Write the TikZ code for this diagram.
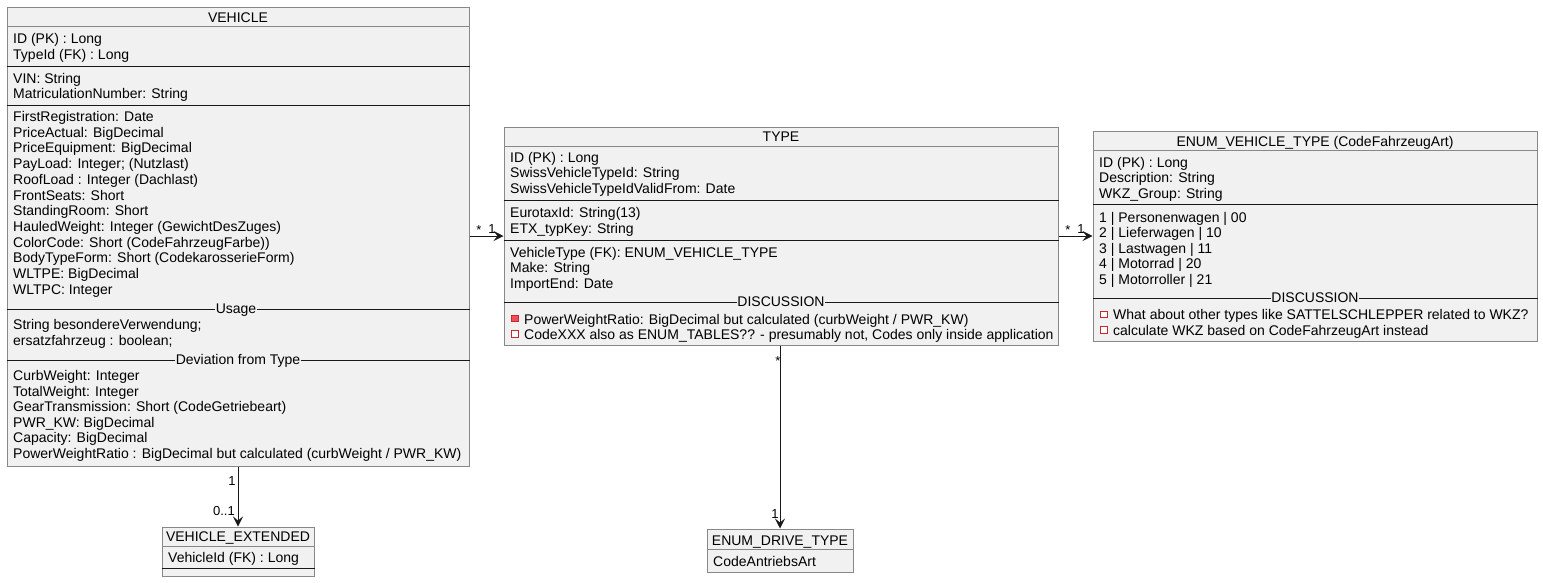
\documentclass[tikz,border=0pt]{standalone}
\usepackage{fontspec}
\setmainfont{Liberation Sans}
\usetikzlibrary{arrows.meta}
\definecolor{boxfill}{HTML}{F1F1F1}
\definecolor{bordergray}{HTML}{888888}
\definecolor{sepcol}{HTML}{181818}
\definecolor{privred}{HTML}{C82930}
\definecolor{privfill}{HTML}{F24D5C}
\tikzset{
  box/.style={rectangle, draw=bordergray, fill=boxfill, line width=1pt, inner sep=0pt},
  sepline/.style={draw=sepcol, line width=1pt},
  titlesep/.style={draw=bordergray, line width=1pt},
  txt/.style={anchor=base west, inner sep=0pt, font=\fontsize{14}{16}\selectfont, text=black},
  ttl/.style={anchor=base, inner sep=0pt, font=\fontsize{14}{16}\selectfont, text=black},
  sectl/.style={anchor=base, inner sep=0pt, inner xsep=0.5pt, fill=boxfill, font=\fontsize{14}{16}\selectfont, text=black},
  lbl/.style={anchor=base, inner sep=0pt, font=\fontsize{13}{15}\selectfont, text=black},
  bulletF/.style={rectangle, draw=privred, fill=privfill, line width=1pt, minimum size=6.5pt, inner sep=0pt},
  bulletH/.style={rectangle, draw=privred, fill=white, line width=1pt, minimum size=6.5pt, inner sep=0pt},
  arr/.style={draw=sepcol, line width=1pt, -{Stealth[length=10pt,width=10pt,inset=4pt]}}
}
\begin{document}
\begin{tikzpicture}[x=1pt,y=-1pt]
\useasboundingbox (0,0) rectangle (1543,582);

% ---------- boxes ----------
\node[box, minimum width=462pt, minimum height=459pt] (vehicle) at (238,236.5) {};
\node[box, minimum width=554pt, minimum height=218pt] (type) at (781,236) {};
\node[box, minimum width=444pt, minimum height=210pt] (enumvt) at (1315,236) {};
\node[box, minimum width=152pt, minimum height=49pt] (vext) at (238,551.5) {};
\node[box, minimum width=146pt, minimum height=43pt] (edrive) at (780,550.5) {};

% ---------- VEHICLE ----------
\node[ttl] (vtitle) at (238,22) {VEHICLE};
\draw[titlesep] (vehicle.west |- 0,26) -- (vehicle.east |- 0,26);
\node[txt] (va1) at (13,43) {ID (PK) : Long};
\node[txt] (va2) at (13,59) {TypeId (FK) : Long};
\draw[sepline] (vehicle.west |- 0,66) -- (vehicle.east |- 0,66);
\node[txt] (vb1) at (13,83) {VIN: String};
\node[txt] (vb2) at (13,98.5) {MatriculationNumber: String};
\draw[sepline] (vehicle.west |- 0,105) -- (vehicle.east |- 0,105);
\foreach \t [count=\i from 0] in {
  {FirstRegistration: Date},
  {PriceActual: BigDecimal},
  {PriceEquipment: BigDecimal},
  {PayLoad: Integer; (Nutzlast)},
  {RoofLoad : Integer (Dachlast)},
  {FrontSeats: Short},
  {StandingRoom: Short},
  {HauledWeight: Integer (GewichtDesZuges)},
  {ColorCode: Short (CodeFahrzeugFarbe))},
  {BodyTypeForm: Short (CodekarosserieForm)},
  {WLTPE: BigDecimal},
  {WLTPC: Integer}}
  \node[txt] (vc\i) at (13,{121.5+\i*15.7}) {\t};
\draw[sepline] (vehicle.west |- 0,309) -- (vehicle.east |- 0,309);
\node[sectl] (vusage) at (236,313.5) {Usage};
\node[txt] (vd1) at (13,329.5) {String besondereVerwendung;};
\node[txt] (vd2) at (13,345) {ersatzfahrzeug : boolean;};
\draw[sepline] (vehicle.west |- 0,360) -- (vehicle.east |- 0,360);
\node[sectl] (vdev) at (238,364.5) {Deviation from Type};
\foreach \t [count=\i from 0] in {
  {CurbWeight: Integer},
  {TotalWeight: Integer},
  {GearTransmission: Short (CodeGetriebeart)},
  {PWR\_KW: BigDecimal},
  {Capacity: BigDecimal},
  {PowerWeightRatio : BigDecimal but calculated (curbWeight / PWR\_KW)}}
  \node[txt] (ve\i) at (13,{380.5+\i*15.6}) {\t};

% ---------- TYPE ----------
\node[ttl] (ttitle) at (781,141) {TYPE};
\draw[titlesep] (type.west |- 0,146) -- (type.east |- 0,146);
\node[txt] (ta1) at (510,162) {ID (PK) : Long};
\node[txt] (ta2) at (510,177.5) {SwissVehicleTypeId: String};
\node[txt] (ta3) at (510,193) {SwissVehicleTypeIdValidFrom: Date};
\draw[sepline] (type.west |- 0,200) -- (type.east |- 0,200);
\node[txt] (tb1) at (510,217) {EurotaxId: String(13)};
\node[txt] (tb2) at (510,233) {ETX\_typKey: String};
\draw[sepline] (type.west |- 0,240) -- (type.east |- 0,240);
\node[txt] (tc1) at (510,257) {VehicleType (FK): ENUM\_VEHICLE\_TYPE};
\node[txt] (tc2) at (510,272.5) {Make: String};
\node[txt] (tc3) at (510,288) {ImportEnd: Date};
\draw[sepline] (type.west |- 0,302) -- (type.east |- 0,302);
\node[sectl] (tdisc) at (781,306.5) {DISCUSSION};
\node[bulletF] (tbul1) at (515,318.5) {};
\node[txt] (td1) at (524,324) {PowerWeightRatio: BigDecimal but calculated (curbWeight / PWR\_KW)};
\node[bulletH] (tbul2) at (515,334) {};
\node[txt] (td2) at (524,339.5) {CodeXXX also as ENUM\_TABLES?? - presumably not, Codes only inside application};

% ---------- ENUM_VEHICLE_TYPE ----------
\node[ttl] (etitle) at (1315,146) {ENUM\_VEHICLE\_TYPE (CodeFahrzeugArt)};
\draw[titlesep] (enumvt.west |- 0,150) -- (enumvt.east |- 0,150);
\node[txt] (ea1) at (1099,167) {ID (PK) : Long};
\node[txt] (ea2) at (1099,182.5) {Description: String};
\node[txt] (ea3) at (1099,198) {WKZ\_Group: String};
\draw[sepline] (enumvt.west |- 0,204) -- (enumvt.east |- 0,204);
\foreach \t [count=\i from 0] in {
  {1 | Personenwagen | 00},
  {2 | Lieferwagen | 10},
  {3 | Lastwagen | 11},
  {4 | Motorrad | 20},
  {5 | Motorroller | 21}}
  \node[txt] (eb\i) at (1099,{222+\i*15.5}) {\t};
\draw[sepline] (enumvt.west |- 0,298) -- (enumvt.east |- 0,298);
\node[sectl] (edisc) at (1315,302.5) {DISCUSSION};
\node[bulletH] (ebul1) at (1104,314.5) {};
\node[txt] (ec1) at (1113,319.5) {What about other types like SATTELSCHLEPPER related to WKZ?};
\node[bulletH] (ebul2) at (1104,330) {};
\node[txt] (ec2) at (1113,335) {calculate WKZ based on CodeFahrzeugArt instead};

% ---------- VEHICLE_EXTENDED ----------
\node[ttl] (xtitle) at (238,541) {VEHICLE\_EXTENDED};
\draw[titlesep] (vext.west |- 0,546) -- (vext.east |- 0,546);
\node[txt] (xa1) at (168,562) {VehicleId (FK) : Long};
\draw[sepline] (vext.west |- 0,568) -- (vext.east |- 0,568);

% ---------- ENUM_DRIVE_TYPE ----------
\node[ttl] (dtitle) at (780,545) {ENUM\_DRIVE\_TYPE};
\draw[titlesep] (edrive.west |- 0,549) -- (edrive.east |- 0,549);
\node[txt] (da1) at (713,566) {CodeAntriebsArt};

% ---------- connectors ----------
\draw[arr] (vehicle.east |- type.west) -- (type.west);
\draw[arr] (type.east) -- (enumvt.west);
\draw[arr] (vehicle.south) -- (vext.north);
\draw[arr] (type.south -| edrive.north) -- (edrive.north);

% ---------- multiplicities ----------
\node[lbl] (m1) at (479,234) {*};
\node[lbl] (m2) at (492,233) {1};
\node[lbl] (m3) at (1068,234) {*};
\node[lbl] (m4) at (1081,233) {1};
\node[lbl] (m5) at (232,485) {1};
\node[lbl, anchor=base east] (m6) at (235,515) {0..1};
\node[lbl] (m7) at (778,365) {*};
\node[lbl] (m8) at (775,518) {1};
\end{tikzpicture}
\end{document}
